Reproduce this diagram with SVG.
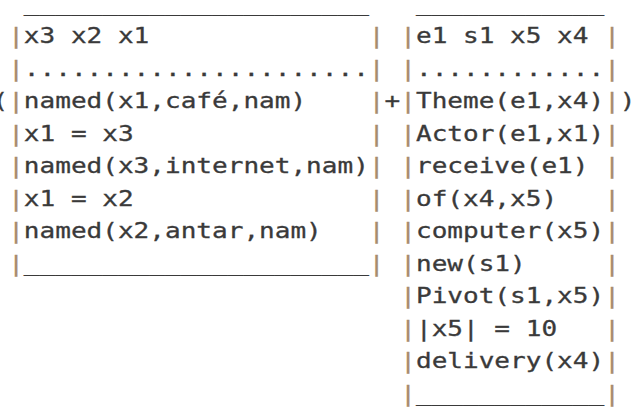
<svg xmlns="http://www.w3.org/2000/svg" width="638" height="417" viewBox="0 0 638 417">
<style>
text{font-family:"DejaVu Sans Mono","Liberation Mono",monospace;font-size:21.5px;fill:#3a3a3a;stroke:#3a3a3a;stroke-width:0.3px;white-space:pre}
.b{fill:#a88c6c;stroke:#a88c6c}
</style>
<rect width="638" height="417" fill="#fff"/>
<g transform="scale(1.212 1)" xml:space="preserve">
<g id="drs-left">
<text x="19.69" y="11">______________________</text>
<text class="b" x="6.75" y="43.5">|</text><text x="19.69" y="43.5">x3 x2 x1</text><text class="b" x="304.3" y="43.5">|</text>
<text class="b" x="6.75" y="76">|</text><text x="19.69" y="76">......................</text><text class="b" x="304.3" y="76">|</text>
<text class="b" x="6.75" y="108.5">|</text><text x="19.69" y="108.5">named(x1,café,nam)</text><text class="b" x="304.3" y="108.5">|</text>
<text class="b" x="6.75" y="141">|</text><text x="19.69" y="141">x1 = x3</text><text class="b" x="304.3" y="141">|</text>
<text class="b" x="6.75" y="173.5">|</text><text x="19.69" y="173.5">named(x3,internet,nam)</text><text class="b" x="304.3" y="173.5">|</text>
<text class="b" x="6.75" y="206">|</text><text x="19.69" y="206">x1 = x2</text><text class="b" x="304.3" y="206">|</text>
<text class="b" x="6.75" y="238.5">|</text><text x="19.69" y="238.5">named(x2,antar,nam)</text><text class="b" x="304.3" y="238.5">|</text>
<text class="b" x="6.75" y="271">|</text><text x="19.69" y="271">______________________</text><text class="b" x="304.3" y="271">|</text>
</g>
<g id="drs-right">
<text x="343.2" y="11">____________</text>
<text class="b" x="330.3" y="43.5">|</text><text x="343.2" y="43.5">e1 s1 x5 x4</text><text class="b" x="498.5" y="43.5">|</text>
<text class="b" x="330.3" y="76">|</text><text x="343.2" y="76">............</text><text class="b" x="498.5" y="76">|</text>
<text class="b" x="330.3" y="108.5">|</text><text x="343.2" y="108.5">Theme(e1,x4)</text><text class="b" x="498.5" y="108.5">|</text>
<text class="b" x="330.3" y="141">|</text><text x="343.2" y="141">Actor(e1,x1)</text><text class="b" x="498.5" y="141">|</text>
<text class="b" x="330.3" y="173.5">|</text><text x="343.2" y="173.5">receive(e1)</text><text class="b" x="498.5" y="173.5">|</text>
<text class="b" x="330.3" y="206">|</text><text x="343.2" y="206">of(x4,x5)</text><text class="b" x="498.5" y="206">|</text>
<text class="b" x="330.3" y="238.5">|</text><text x="343.2" y="238.5">computer(x5)</text><text class="b" x="498.5" y="238.5">|</text>
<text class="b" x="330.3" y="271">|</text><text x="343.2" y="271">new(s1)</text><text class="b" x="498.5" y="271">|</text>
<text class="b" x="330.3" y="303.5">|</text><text x="343.2" y="303.5">Pivot(s1,x5)</text><text class="b" x="498.5" y="303.5">|</text>
<text class="b" x="330.3" y="336">|</text><text x="343.2" y="336">|x5| = 10</text><text class="b" x="498.5" y="336">|</text>
<text class="b" x="330.3" y="368.5">|</text><text x="343.2" y="368.5">delivery(x4)</text><text class="b" x="498.5" y="368.5">|</text>
<text class="b" x="330.3" y="401">|</text><text x="343.2" y="401">____________</text><text class="b" x="498.5" y="401">|</text>
</g>
<g id="operators">
<text x="-6.19" y="108.5">(</text>
<text x="317.3" y="108.5">+</text>
<text x="511.4" y="108.5">)</text>
</g>
</g>
</svg>
